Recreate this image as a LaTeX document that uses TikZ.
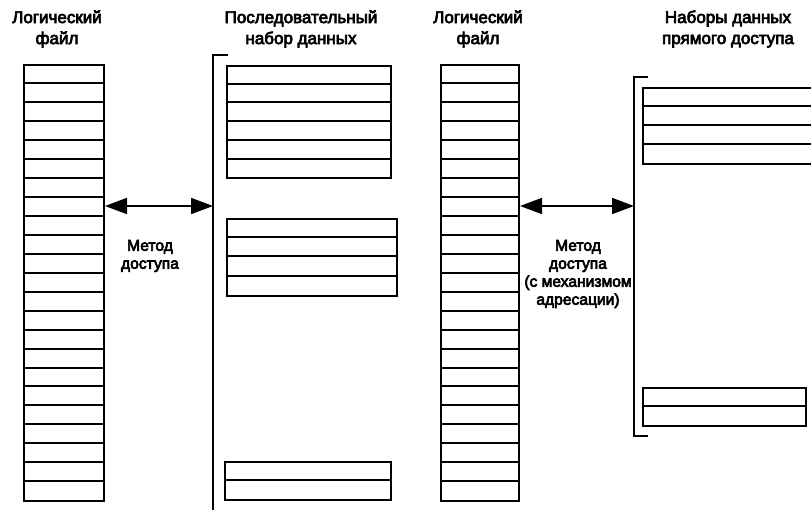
\documentclass[tikz,border=0pt]{standalone}
\usepackage{fontspec}
\setmainfont{Liberation Sans}
\newfontfamily\hfont{Liberation Sans}[FakeBold=4]
\usetikzlibrary{arrows.meta}
\begin{document}
\begin{tikzpicture}[x=1pt,y=-1pt,
  rec/.style={draw, line width=2pt, line join=miter},
  sep/.style={line width=2pt},
  brk/.style={line width=1.7pt},
  dblarrow/.style={line width=1.7pt, {Triangle[length=22pt,width=16pt]}-{Triangle[length=22pt,width=16pt]}},
  ttl/.style={align=center, font=\hfont\fontsize{17}{21}\selectfont, inner sep=0pt},
  lbl/.style={align=center, font=\hfont\fontsize{15.6}{18}\selectfont, inner sep=0pt}]
\useasboundingbox (0,0) rectangle (811,509);
\clip (0,0) rectangle (811,509);

% stack of records: name, left x, right x, top y, rows, row height
\newcommand{\recstack}[6]{%
  \path (#2,#4) coordinate (#1-nw);
  \node[rec, inner sep=0pt, minimum width={#3-#2}, minimum height={#5*#6}, anchor=north west] (#1) at (#1-nw) {};
  \foreach \k in {1,...,\numexpr#5-1\relax}{\draw[sep] (#2,#4+\k*#6) -- (#3,#4+\k*#6);}%
}

% headings
\node[ttl] (h1) at (57,29) {Логический\\файл};
\node[ttl] (h2) at (301,29) {Последовательный\\набор данных};
\node[ttl] (h3) at (478,29) {Логический\\файл};
\node[ttl] (h4) at (728,29) {Наборы данных\\прямого доступа};

% logical files
\recstack{lf1}{23}{103}{64.3}{23}{18.95}
\recstack{lf2}{440}{518}{64.3}{23}{18.95}

% sequential data set
\coordinate (sbt) at (213,55);
\coordinate (sbb) at (213,515);
\draw[brk] (228,55) -- (sbt) -- (sbb);
\recstack{sq1}{226}{390}{65}{6}{18.7}
\recstack{sq2}{226}{396}{218}{4}{19.2}
\recstack{sq3}{224}{390}{461}{2}{19}

% direct access data sets
\coordinate (dbt) at (634,77);
\coordinate (dbb) at (634,436);
\draw[brk] (648,77) -- (dbt) -- (dbb) -- (648,436);
\recstack{da1}{642}{830}{87}{4}{19}
\recstack{da2}{642}{805}{387}{2}{19}

% access methods
\draw[dblarrow] (lf1.east |- 0,206) -- (sbt |- 0,206);
\draw[dblarrow] (lf2.east |- 0,206) -- (dbt |- 0,206);
\node[lbl] (m1) at (150,256) {Метод\\доступа};
\node[lbl] (m2) at (578,274) {Метод\\доступа\\(с механизмом\\адресации)};
\end{tikzpicture}
\end{document}
